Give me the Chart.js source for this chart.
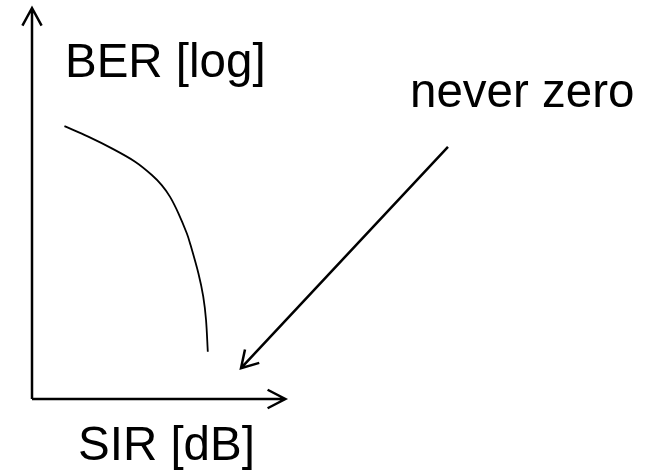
<!DOCTYPE html>
<html>
<head>
<meta charset="utf-8">
<script src="https://cdn.jsdelivr.net/npm/chart.js@4"></script>
<style>
  html, body { margin: 0; padding: 0; background: #fff; }
  #wrap { width: 650px; height: 472px; }
</style>
</head>
<body>
<div id="wrap"><canvas id="chart"></canvas></div>
<script>
// sketch curve, arbitrary units (SIR along x, BER along y)
const sirValues = [1.28, 2.22, 3.15, 4.07, 4.73, 5.12, 5.45, 5.78, 6.11, 6.24, 6.57, 6.76, 6.87, 6.94];
const berValues = [6.98, 6.71, 6.41, 6.07, 5.73, 5.47, 5.17, 4.75, 4.24, 3.98, 3.21, 2.62, 2.02, 1.21];

// axis extents and the "never zero" pointer
const xAxisEnd = 10;
const yAxisEnd = 10;
const pointerFrom = [16.42, 6.45];
const pointerTo = [8.25, 0.79];

const yLabel = "BER [log]";
const xLabel = "SIR [dB]";
const noteLabel = "never zero";

function arrow(ctx, x1, y1, x2, y2, len, angle) {
  ctx.beginPath();
  ctx.moveTo(x1, y1);
  ctx.lineTo(x2, y2);
  const a = Math.atan2(y1 - y2, x1 - x2);
  ctx.moveTo(x2 + len * Math.cos(a - angle), y2 + len * Math.sin(a - angle));
  ctx.lineTo(x2, y2);
  ctx.lineTo(x2 + len * Math.cos(a + angle), y2 + len * Math.sin(a + angle));
  ctx.stroke();
}

const sketch = {
  id: "sketch",
  afterDatasetsDraw(chart) {
    const ctx = chart.ctx;
    const xs = chart.scales.x, ys = chart.scales.y;
    const ox = xs.getPixelForValue(0), oy = ys.getPixelForValue(0);
    ctx.save();
    ctx.strokeStyle = "#000";
    ctx.lineWidth = 2.5;
    ctx.lineCap = "butt";
    ctx.lineJoin = "miter";
    arrow(ctx, ox, oy, ox, ys.getPixelForValue(yAxisEnd), 20, 0.5);
    arrow(ctx, ox, oy, xs.getPixelForValue(xAxisEnd), oy, 20, 0.48);
    arrow(ctx,
      xs.getPixelForValue(pointerFrom[0]), ys.getPixelForValue(pointerFrom[1]),
      xs.getPixelForValue(pointerTo[0]), ys.getPixelForValue(pointerTo[1]), 19, 0.54);

    ctx.fillStyle = "#000";
    ctx.font = "47.5px 'Liberation Sans', Arial, sans-serif";
    ctx.textBaseline = "alphabetic";
    ctx.textAlign = "left";
    ctx.fillText(yLabel, 65, 77);
    ctx.fillText(noteLabel, 410, 107);
    ctx.fillText(xLabel, 78, 460);
    ctx.restore();
  }
};

new Chart(document.getElementById("chart"), {
  type: "scatter",
  data: {
    datasets: [{
      data: sirValues.map((x, i) => ({ x: x, y: berValues[i] })),
      showLine: true,
      borderColor: "#000",
      borderWidth: 1.8,
      pointRadius: 0,
      fill: false,
      tension: 0.3,
      clip: false
    }]
  },
  options: {
    responsive: true,
    maintainAspectRatio: false,
    animation: false,
    events: [],
    layout: {
      padding: { left: 32, right: 10, top: 8, bottom: 73 }
    },
    plugins: {
      legend: { display: false },
      tooltip: { enabled: false }
    },
    scales: {
      x: { type: "linear", min: 0, max: 24, display: false },
      y: { type: "linear", min: 0, max: 10, display: false }
    }
  },
  plugins: [sketch]
});
</script>
</body>
</html>
